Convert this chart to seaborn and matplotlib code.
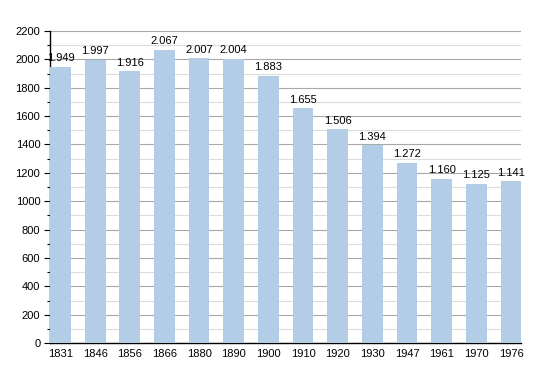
import numpy as np
import pandas as pd
import matplotlib
matplotlib.use("Agg")
import matplotlib.pyplot as plt
from matplotlib.ticker import MultipleLocator
import seaborn as sns

## data
years = ["1831", "1846", "1856", "1866", "1880", "1890", "1900",
         "1910", "1920", "1930", "1947", "1961", "1970", "1976"]
population = [1949, 1997, 1916, 2067, 2007, 2004, 1883,
              1655, 1506, 1394, 1272, 1160, 1125, 1141]

df = pd.DataFrame({"year": years, "pop": population})

sns.set_style("white")
plt.rcParams["font.family"] = ["Liberation Sans", "DejaVu Sans"]
plt.rcParams["text.color"] = "black"
plt.rcParams["xtick.color"] = "black"
plt.rcParams["ytick.color"] = "black"

fig = plt.figure(figsize=(5.5, 3.73), dpi=100)
ax = fig.add_axes([0.091, 0.080, 0.857, 0.837])

sns.barplot(data=df, x="year", y="pop", color="#b3cde6", width=0.6,
            saturation=1, linewidth=0, edgecolor="none", ax=ax, zorder=3)

ax.set_ylim(0, 2200)
ax.set_xlim(-0.3, len(years) - 0.7)
ax.yaxis.set_major_locator(MultipleLocator(200))
ax.yaxis.set_minor_locator(MultipleLocator(100))
ax.grid(axis="y", which="major", color="#a8a8a8", lw=0.8, zorder=0)
ax.grid(axis="y", which="minor", color="#dcdcdc", lw=0.8, zorder=0)
ax.set_axisbelow(True)

for s in ["top", "right"]:
    ax.spines[s].set_visible(False)
for s in ["left", "bottom"]:
    ax.spines[s].set_color("black")
    ax.spines[s].set_linewidth(1.0)

ax.tick_params(axis="y", which="major", length=4, width=0.8, color="black",
               labelsize=8, pad=3, left=True, labelcolor="black")
ax.tick_params(axis="y", which="minor", length=2, width=0.8, color="black", left=True)
ax.tick_params(axis="x", length=0, labelsize=8, pad=4, labelcolor="black")
ax.set_xlabel("")
ax.set_ylabel("")

# value labels with dot separator
for i, v in enumerate(population):
    lbl = f"{v:,}".replace(",", ".")
    ax.text(i, v + 25, lbl, ha="center", va="bottom", fontsize=8,
            color="black", zorder=4)

fig.savefig("out.png", dpi=100)
